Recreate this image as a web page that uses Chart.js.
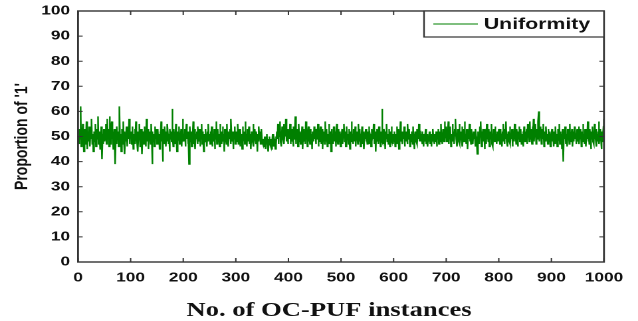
<!DOCTYPE html>
<html><head><meta charset="utf-8">
<script src="https://cdn.jsdelivr.net/npm/chart.js@4.4.0/dist/chart.umd.min.js"></script>
<style>
html,body{margin:0;padding:0;background:#fff;overflow:hidden;width:638px;height:321px;}
#wrap{position:absolute;left:0;top:0;width:480px;height:321px;transform:scaleX(1.3292);transform-origin:0 0;}
canvas{display:block;}
</style></head><body>
<div id="wrap"><canvas id="c" width="480" height="321"></canvas></div>
<script>
// Proportion of '1' for each OC-PUF instance (1..1000)
const uniformity = [
50,47,53,49,62,46,52,48,55,51,44,50,53,47,49,56,51,45,52,48,54,50,46,53,49,57,47,51,44,52,50,48,55,46,51,53,49,58,47,50,52,45,49,54,48,41,51,47,53,50,
48,52,55,47,50,57,49,53,46,58,51,47,54,56,49,52,45,50,53,48,39,51,47,54,49,52,46,55,62,48,51,44,53,50,47,56,49,52,43,51,48,54,50,46,53,49,57,47,51,50,
52,47,50,54,45,51,49,53,47,56,50,48,52,44,51,49,55,46,50,53,48,43,52,50,47,54,49,51,46,57,50,48,53,45,51,49,52,47,55,50,39,52,48,51,46,54,49,50,53,47,
50,53,47,51,45,52,49,56,48,51,40,53,49,47,54,50,46,52,48,55,51,47,50,44,53,49,52,48,61,50,46,53,49,51,47,55,50,44,52,48,51,54,47,50,49,53,46,51,57,48,
51,48,53,46,50,55,49,52,47,51,39,50,54,48,52,46,51,49,56,47,50,53,45,51,49,52,47,54,50,48,53,46,51,49,55,47,52,50,44,51,48,53,49,50,46,52,48,55,49,51,
47,52,49,54,46,51,50,48,53,45,52,49,56,47,50,53,48,51,46,55,49,52,47,50,54,48,51,44,53,49,50,47,55,48,52,46,51,49,53,47,57,50,48,52,45,51,49,54,47,50,
52,48,51,55,47,50,53,46,52,49,51,45,54,48,50,52,47,56,49,51,46,53,48,50,54,47,51,49,45,52,50,48,55,46,51,53,49,47,52,50,44,51,48,54,49,52,47,50,53,48,
47,49,46,48,50,45,48,47,51,46,49,44,48,50,47,46,49,45,48,51,47,46,49,48,45,50,47,52,49,55,47,53,50,56,48,52,46,54,50,49,55,47,52,50,57,48,51,53,47,50,
52,49,55,47,51,53,48,50,46,54,49,52,58,47,51,49,53,46,50,55,48,52,47,51,49,54,45,50,53,48,51,47,56,49,52,46,51,54,48,50,47,53,49,51,45,52,50,48,54,49,
51,47,53,49,50,55,46,52,48,51,54,47,50,53,45,51,49,52,47,56,50,48,53,46,51,49,55,47,52,50,44,53,49,51,47,54,50,48,52,46,51,55,49,47,53,50,48,52,46,51,
49,53,47,51,50,55,48,52,46,50,54,49,51,47,53,50,45,52,48,56,49,51,47,53,50,48,54,46,51,49,52,47,55,50,48,53,46,51,49,54,47,50,52,45,51,49,53,48,50,47,
52,49,54,47,51,50,46,53,48,51,49,55,47,50,52,44,51,48,53,50,47,54,49,51,46,52,49,61,48,51,47,53,50,45,52,49,55,48,51,47,53,50,46,52,49,54,48,51,47,50,
48,52,46,51,49,54,47,50,53,45,51,49,56,48,50,52,47,51,49,54,46,50,52,48,51,47,55,49,50,53,46,51,48,52,50,47,54,49,51,45,52,50,48,53,47,51,49,55,48,50,
51,48,50,47,52,49,46,51,48,50,53,47,49,51,46,50,48,52,47,49,51,46,50,48,53,49,47,51,48,50,52,46,51,49,53,47,50,52,48,55,49,51,47,53,50,48,56,49,52,54,
48,53,50,56,47,52,49,54,46,51,50,55,48,52,47,53,50,57,49,51,46,53,50,48,55,47,51,52,49,54,46,50,53,48,56,49,51,47,53,50,45,52,49,55,48,51,47,53,50,49,
47,52,49,51,46,53,50,48,43,52,49,51,47,54,50,56,46,52,49,53,48,51,45,53,50,47,55,49,51,48,53,46,50,52,49,55,47,51,46,53,50,48,54,49,51,47,52,50,48,53,
51,47,53,49,50,46,52,48,55,50,47,53,49,56,48,51,46,52,50,48,54,47,51,49,53,46,50,52,48,55,49,51,47,53,50,46,52,49,54,48,50,53,47,51,49,52,46,54,50,48,
52,49,53,47,55,50,52,48,56,49,53,51,47,54,50,57,48,52,50,55,47,53,49,51,56,60,48,52,50,54,47,53,51,49,55,46,52,50,48,54,49,51,47,53,50,48,52,46,51,49,
53,48,51,46,52,50,47,54,49,51,46,53,48,50,55,47,52,49,51,45,53,48,40,52,49,54,47,51,50,46,53,49,52,47,55,48,51,49,53,46,50,52,48,54,49,51,47,50,53,48,
50,54,47,51,49,53,46,52,48,55,49,51,47,53,50,46,52,49,56,48,51,47,53,50,45,52,49,54,48,51,47,55,50,49,53,46,51,48,52,56,47,50,53,49,45,52,48,51,54,57
];
const xTickValues = [0,100,200,300,400,500,600,700,800,900,1000];
const yTickValues = [0,10,20,30,40,50,60,70,80,90,100];
const seriesLabel = 'Uniformity';
const xTitle = 'No. of OC-PUF instances';
const yTitle = "Proportion of '1'";

const points = uniformity.map((v, i) => ({x: i + 1, y: v}));
const SX = 1.3292;

const frame = {
  id: 'frame',
  afterDatasetsDraw(chart) {
    const {ctx, chartArea: a, scales: {x, y}} = chart;
    ctx.save();
    ctx.strokeStyle = '#333';
    ctx.lineWidth = 1.4;
    ctx.strokeRect(a.left, a.top, a.right - a.left, a.bottom - a.top);
    ctx.lineWidth = 1;
    ctx.beginPath();
    x.ticks.forEach(t => {
      const px = x.getPixelForValue(t.value);
      ctx.moveTo(px, a.bottom); ctx.lineTo(px, a.bottom - 4);
      ctx.moveTo(px, a.top); ctx.lineTo(px, a.top + 4);
    });
    y.ticks.forEach(t => {
      const py = y.getPixelForValue(t.value);
      ctx.moveTo(a.left, py); ctx.lineTo(a.left + 3.5, py);
      ctx.moveTo(a.right, py); ctx.lineTo(a.right - 3.5, py);
    });
    ctx.stroke();
    // legend box
    const lx = 319, ly = a.top, lw = a.right - 319, lh = 26;
    ctx.fillStyle = '#fff';
    ctx.fillRect(lx, ly, lw, lh);
    ctx.strokeStyle = '#333';
    ctx.lineWidth = 1.2;
    ctx.strokeRect(lx, ly, lw, lh);
    ctx.strokeStyle = chart.data.datasets[0].borderColor;
    ctx.lineWidth = 1;
    ctx.beginPath();
    ctx.moveTo(326, ly + 13); ctx.lineTo(359.5, ly + 13);
    ctx.stroke();
    ctx.fillStyle = '#111';
    ctx.font = 'bold 16px Arial, "Liberation Sans", sans-serif';
    ctx.textBaseline = 'middle';
    ctx.textAlign = 'left';
    ctx.fillText(chart.data.datasets[0].label, 364, ly + 13.5);
    // x axis title
    ctx.font = 'bold 20px "Times New Roman", "Liberation Serif", serif';
    ctx.textAlign = 'center';
    ctx.textBaseline = 'alphabetic';
    ctx.fillText(xTitle, 329 / SX, 316);
    ctx.restore();
  }
};

new Chart(document.getElementById('c'), {
  type: 'line',
  data: {
    datasets: [{
      label: seriesLabel,
      data: points,
      borderColor: '#008000',
      borderWidth: 1.2,
      pointRadius: 0,
      tension: 0,
      fill: false
    }]
  },
  options: {
    responsive: false,
    animation: false,
    devicePixelRatio: 2,
    layout: {autoPadding: false, padding: {top: 11, right: 25.6, left: 0, bottom: 0}},
    plugins: {legend: {display: false}, tooltip: {enabled: false}},
    scales: {
      x: {
        type: 'linear', min: 0, max: 1000,
        afterBuildTicks: s => { s.ticks = xTickValues.map(v => ({value: v})); },
        afterFit: s => { s.height = 59; s.paddingLeft = 0; s.paddingRight = 0; },
        grid: {display: false, drawTicks: false},
        border: {display: false},
        ticks: {
          color: '#111', padding: 8, maxRotation: 0, autoSkip: false,
          callback: v => String(v),
          font: {family: 'Arial, "Liberation Sans", sans-serif', size: 13, weight: 'bold'}
        }
      },
      y: {
        type: 'linear', min: 0, max: 100,
        afterBuildTicks: s => { s.ticks = yTickValues.map(v => ({value: v})); },
        afterFit: s => { s.width = 58.7; s.paddingTop = 0; s.paddingBottom = 0; },
        grid: {display: false, drawTicks: false},
        border: {display: false},
        ticks: {
          color: '#111', padding: 6, autoSkip: false,
          callback: v => String(v),
          font: {family: 'Arial, "Liberation Sans", sans-serif', size: 13, weight: 'bold'}
        },
        title: {
          display: true, text: yTitle, color: '#111', padding: {top: 8, bottom: 0},
          font: {family: 'Arial, "Liberation Sans", sans-serif', size: 14, weight: 'bold'}
        }
      }
    }
  },
  plugins: [frame]
});
</script>
</body></html>
